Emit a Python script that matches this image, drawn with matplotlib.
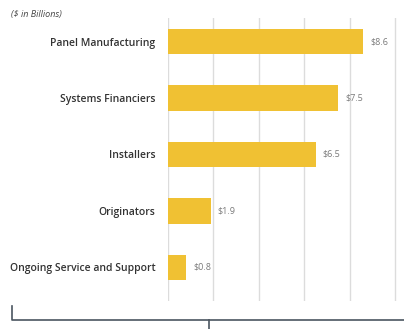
import matplotlib.pyplot as plt
from matplotlib.lines import Line2D

plt.rcParams['font.family'] = ['Open Sans', 'DejaVu Sans']

categories = ['Panel Manufacturing', 'Systems Financiers', 'Installers',
              'Originators', 'Ongoing Service and Support']
values = [8.6, 7.5, 6.5, 1.9, 0.8]
value_labels = ['$8.6', '$7.5', '$6.5', '$1.9', '$0.8']

fig = plt.figure(figsize=(4.04, 3.29), dpi=100)
ax = fig.add_axes([168 / 404, 1 - 301 / 329, 236 / 404, 283 / 329])

pos = list(range(len(categories)))
ax.barh(pos, values, height=0.46, color='#f0c133', zorder=2)

for p, v, lab in zip(pos, values, value_labels):
    ax.text(v + 0.3, p, lab, va='center', ha='left', fontsize=6.5, color='#7a7a7a')

ax.set_xlim(0, 10.4)
ax.set_ylim(4.593, -0.416)
ax.set_xticks([0, 2, 4, 6, 8, 10])
ax.set_xticklabels([])
ax.set_yticks(pos)
ax.set_yticklabels(categories, fontsize=7.5, color='#333333', fontweight='semibold')
ax.tick_params(axis='both', length=0, pad=9)
ax.grid(axis='x', color='#dcdcdc', linewidth=1, zorder=0)
for s in ax.spines.values():
    s.set_visible(False)

fig.text(11 / 404, 1 - 14 / 329, '($ in Billions)', fontsize=6.5, style='italic',
         color='#444444', va='center')

# bracket under the chart
bc = '#4a5560'
def fx(x): return x / 404
def fy(y): return 1 - y / 329
fig.add_artist(Line2D([fx(12), fx(12), fx(404)], [fy(306), fy(320), fy(320)],
                      color=bc, linewidth=1.2))
fig.add_artist(Line2D([fx(209), fx(209)], [fy(320), fy(329)], color=bc, linewidth=1.2))

fig.savefig('out.png', dpi=100)
